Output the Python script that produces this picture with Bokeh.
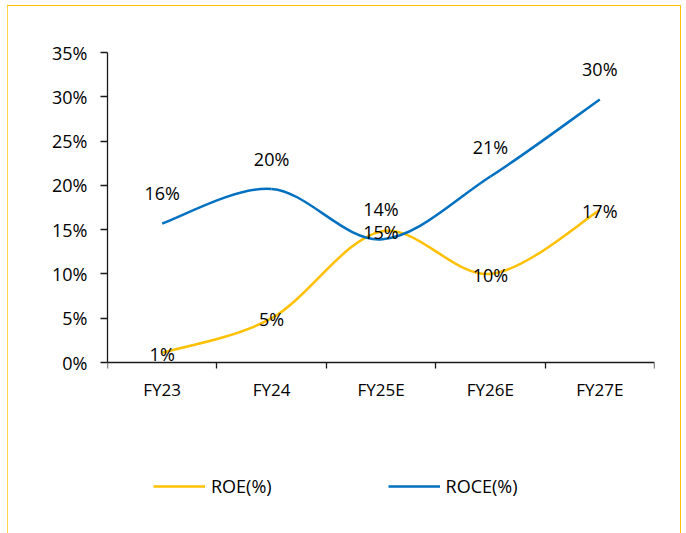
from bokeh.plotting import figure
from bokeh.models import ColumnDataSource, FixedTicker, Legend, LegendItem
from bokeh.core.properties import value
from bokeh.embed import file_html
from bokeh.resources import INLINE

# ---- data ----
categories = ["FY23", "FY24", "FY25E", "FY26E", "FY27E"]
roe = [1.1, 5.0, 14.8, 10.0, 17.2]
roce = [15.7, 19.6, 13.9, 21.0, 29.7]
roe_labels = ["1%", "5%", "15%", "10%", "17%"]
roce_labels = ["16%", "20%", "14%", "21%", "30%"]
y_ticks = [0, 5, 10, 15, 20, 25, 30, 35]

ROE_COLOR = "#FFC000"
ROCE_COLOR = "#0070C0"
FONT = "Open Sans"
FS = "18px"
FS_X = "17px"

xs = [i + 1 for i in range(len(categories))]


def smooth_source(x, y):
    """Bezier segments (Catmull-Rom style control points) through the data points."""
    n = len(x)
    d = dict(x0=[], y0=[], x1=[], y1=[], cx0=[], cy0=[], cx1=[], cy1=[])
    for i in range(n - 1):
        p0 = (x[i - 1], y[i - 1]) if i > 0 else (x[i], y[i])
        p1 = (x[i], y[i])
        p2 = (x[i + 1], y[i + 1])
        p3 = (x[i + 2], y[i + 2]) if i + 2 < n else (x[i + 1], y[i + 1])
        d["x0"].append(p1[0]); d["y0"].append(p1[1])
        d["x1"].append(p2[0]); d["y1"].append(p2[1])
        d["cx0"].append(p1[0] + (p2[0] - p0[0]) / 6)
        d["cy0"].append(p1[1] + (p2[1] - p0[1]) / 6)
        d["cx1"].append(p2[0] - (p3[0] - p1[0]) / 6)
        d["cy1"].append(p2[1] - (p3[1] - p1[1]) / 6)
    return ColumnDataSource(d)


YEL = "#FFC000"
border_css = (
    f"linear-gradient({YEL},{YEL}) 7px 5px / 674px 1px no-repeat, "
    f"linear-gradient(#FFD54F,#FFD54F) 7px 5px / 1px 600px no-repeat, "
    f"linear-gradient({YEL},{YEL}) 680px 5px / 1px 600px no-repeat, white"
)

# frame: x 107..654, y 52..498 ; value 0 sits at y=362, 35 at y=52
Y_MIN = -(498 - 362) * 35 / 310

p = figure(width=686, height=533, output_backend="svg", toolbar_location=None,
           x_range=(0.5, 5.5), y_range=(Y_MIN, 35),
           min_border_left=107, min_border_right=32,
           min_border_top=52, min_border_bottom=35,
           styles={"background": border_css})
p.grid.visible = False
p.outline_line_color = None
p.background_fill_alpha = 0
p.border_fill_alpha = 0

# x axis at value 0: labels at centres, tick marks at category boundaries (minor ticks)
p.xaxis.fixed_location = 0
p.xaxis.ticker = FixedTicker(ticks=xs, minor_ticks=[i + 0.5 for i in range(len(categories) + 1)])
p.xaxis.major_label_overrides = {x: c for x, c in zip(xs, categories)}
p.xaxis.major_tick_line_color = None
p.xaxis.major_tick_out = 0
p.xaxis.major_tick_in = 0
p.xaxis.minor_tick_line_color = "#1a1a1a"
p.xaxis.minor_tick_line_width = 1.3
p.xaxis.minor_tick_out = 6
p.xaxis.minor_tick_in = 0
p.xaxis.major_label_standoff = 9
p.xaxis.major_label_text_font_size = FS_X

p.yaxis.bounds = (0, 35)
p.yaxis.ticker = FixedTicker(ticks=y_ticks, minor_ticks=[])
p.yaxis.major_label_overrides = {t: f"{t}%" for t in y_ticks}
p.yaxis.major_tick_out = 7
p.yaxis.major_tick_in = 0
p.yaxis.major_tick_line_width = 1.3
p.yaxis.major_tick_line_color = "#1a1a1a"
p.yaxis.major_label_standoff = 13
p.yaxis.major_label_text_font_size = FS

for ax in (p.xaxis, p.yaxis):
    ax.axis_line_color = "#1a1a1a"
    ax.axis_line_width = 1.3
    ax.major_label_text_font = FONT
    ax.major_label_text_color = "black"

r_roe = p.bezier(x0="x0", y0="y0", x1="x1", y1="y1", cx0="cx0", cy0="cy0",
                 cx1="cx1", cy1="cy1", source=smooth_source(xs, roe),
                 line_color=ROE_COLOR, line_width=2.5)
r_roce = p.bezier(x0="x0", y0="y0", x1="x1", y1="y1", cx0="cx0", cy0="cy0",
                  cx1="cx1", cy1="cy1", source=smooth_source(xs, roce),
                  line_color=ROCE_COLOR, line_width=2.5)

p.text(x=xs, y=roe, text=roe_labels, text_align="center", text_baseline="middle",
       y_offset=1, text_font=value(FONT), text_font_size=FS, text_color="black")
p.text(x=xs, y=roce, text=roce_labels, text_align="center", text_baseline="middle",
       y_offset=-30, text_font=value(FONT), text_font_size=FS, text_color="black")

legend = Legend(items=[LegendItem(label="ROE(%)", renderers=[r_roe]),
                       LegendItem(label="ROCE(%)", renderers=[r_roce])],
                location=(46, 0), orientation="horizontal",
                glyph_width=52, glyph_height=20, label_standoff=6, spacing=116,
                padding=0, margin=0, border_line_color=None,
                background_fill_alpha=0,
                label_text_font=FONT, label_text_font_size=FS,
                label_text_color="black")
p.add_layout(legend, "center")

open("out.html", "w").write(file_html(p, INLINE))
